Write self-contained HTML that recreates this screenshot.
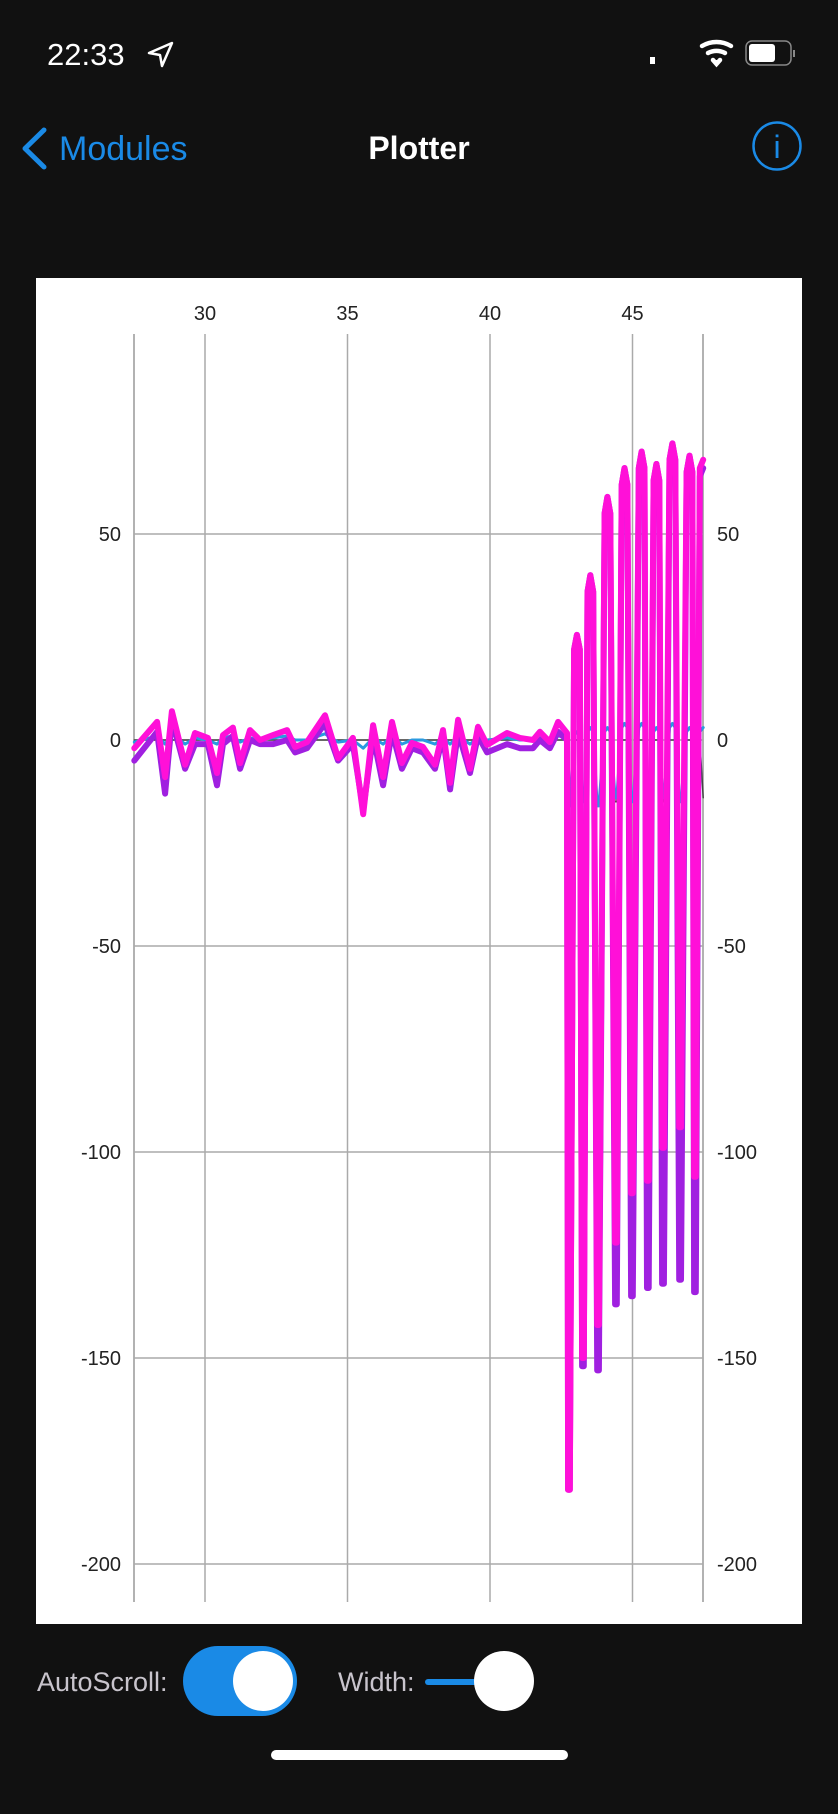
<!DOCTYPE html>
<html><head><meta charset="utf-8"><style>
html,body{margin:0;padding:0;background:#111;width:838px;height:1814px;overflow:hidden}
svg{display:block}
text{font-family:"Liberation Sans",sans-serif}
</style></head><body>
<svg id="root" width="838" height="1814" viewBox="0 0 838 1814">
<rect x="0" y="0" width="838" height="1814" fill="#111"/>
<g>
<text x="47" y="65" font-size="31" fill="#fff">22:33</text>
<path d="M149 53 L172 43 L162 66 L160 55 Z" fill="none" stroke="#fff" stroke-width="2.5" stroke-linejoin="round"/>
<rect x="650" y="57" width="5" height="7" fill="#fff"/>
<g fill="none" stroke="#fff" stroke-width="4.5" stroke-linecap="round">
<path d="M702 46 A28 28 0 0 1 731 46"/><path d="M708 53 A18 18 0 0 1 725 53"/><path d="M713 60 L716.5 64 L720 60" fill="#fff"/>
</g>
<rect x="746" y="41" width="45" height="24" rx="6" fill="none" stroke="#888" stroke-width="1.5"/>
<rect x="749" y="44" width="26" height="18" rx="3" fill="#fff"/>
<rect x="793" y="50" width="2" height="7" fill="#888"/>
</g>
<g>
<path d="M44 130 L25 148.5 L44 167" fill="none" stroke="#1a8ae6" stroke-width="5" stroke-linecap="round" stroke-linejoin="round"/>
<text x="59" y="160" font-size="34" fill="#1a8ae6">Modules</text>
<text x="419" y="159" font-size="32" font-weight="bold" fill="#fff" text-anchor="middle">Plotter</text>
<circle cx="777" cy="146" r="23.5" fill="none" stroke="#1a8ae6" stroke-width="2.5"/>
<text x="777" y="158" font-size="32" fill="#1a8ae6" text-anchor="middle" font-family="Liberation Serif">i</text>
</g>
<rect x="36" y="278" width="766" height="1346" fill="#fff"/>
<g id="grid"></g>
<g id="series"></g>
<g id="labels"></g>
<g>
<text x="37" y="1691" font-size="27" fill="#c8c4cc">AutoScroll:</text>
<rect x="183" y="1646" width="114" height="70" rx="35" fill="#1a8ae6"/>
<circle cx="263" cy="1681" r="30" fill="#fff"/>
<text x="338" y="1691" font-size="27" fill="#c8c4cc">Width:</text>
<line x1="428" y1="1682" x2="480" y2="1682" stroke="#1a8ae6" stroke-width="6" stroke-linecap="round"/>
<circle cx="504" cy="1681" r="30" fill="#fff"/>
</g>
<rect x="271" y="1750" width="297" height="10" rx="5" fill="#fff"/>
</svg>
<script>
const xTicks=[30,35,40,45];
const yTicks=[50,0,-50,-100,-150,-200];
const times=[27.52,28.32,28.6,28.84,29.3,29.65,30.1,30.42,30.63,30.98,31.23,31.58,31.93,32.39,32.88,33.16,33.58,34.21,34.67,35.19,35.55,35.9,36.25,36.56,36.91,37.26,37.65,38.07,38.35,38.6,38.88,39.3,39.58,39.9,40.6,41.05,41.51,41.75,42.1,42.39,42.7,
42.74,42.8,42.95,43.05,43.15,43.23,43.29,43.42,43.52,43.62,43.76,43.82,44.02,44.12,44.22,44.39,44.45,44.62,44.72,44.82,44.95,45.01,45.22,45.32,45.42,45.51,45.57,45.74,45.84,45.94,46.04,46.1,46.3,46.4,46.5,46.64,46.7,46.9,47.0,47.1,47.16,47.22,47.36,47.48];
const magenta=[-2,4.4,-9,7,-6,1.7,0.5,-8,1.2,3,-5.6,2.4,0,1.2,2.4,-1.7,-0.5,6,-4.4,0.5,-18,3.6,-9,4.4,-5.6,-0.7,-1.7,-6,2.4,-10.4,4.9,-7,3.2,-1.2,1.7,0.5,0,2,-0.5,4.4,1.7,
-182,-182,22,25.5,22,-150,-150,36,40,36,-142,-142,55,59,55,-122,-122,62,66,62,-110,-110,66,70,66,-107,-107,63,67,63,-99,-99,68,72,68,-94,-94,65,69,65,-106,-106,66,68];
const purple=[-5,2,-13,5,-7,-1,-1,-11,-1,1,-7,0,-1,-1,0,-3,-2,4,-5,-1,-17,1,-11,2,-7,-2,-3,-7,1,-12,2,-8,1,-3,-1,-2,-2,0,-2,2,0,
-182,-182,22,25.5,22,-152,-152,36,40,36,-153,-153,55,59,55,-137,-137,62,66,62,-135,-135,66,70,66,-133,-133,63,67,63,-132,-132,68,72,68,-131,-131,65,69,65,-134,-134,64,66];
const cyan=[-0.5,1,-1,1.5,-1,0.5,0,-1,0.5,1,-0.5,0.5,0,0.5,1,0,0,1.5,-0.5,0,-2,0.5,-1,1,-1,0,0,-1,0.5,-1,1,-1,0.5,0,0.5,0,0,0.5,0,1,0.5,
-16,-16,1,2,1,-15,-15,2,3,2,-16,-16,2,3,2,-14,-14,3,4,3,-15,-15,3,4,3,-15,-15,2,3,2,-14,-14,3,4,3,-15,-15,2,3,2,-14,-14,2,3];
const gray=[0,0,0,0,0,0,0,0,0,0,0,0,0,0,0,0,0,0,0,0,0,0,0,0,0,0,0,0,0,0,0,0,0,0,0,0,0,0,0,0,0,
-16,-16,0,0,0,-15,-15,0,0,0,-15,-15,0,0,0,-15,-15,0,0,0,-15,-15,0,0,0,-15,-15,0,0,0,-15,-15,0,0,0,-15,-15,0,0,0,-15,-15,0,-14];
const X0=134,X1=703,Y0=334,Y1=1602;
function sx(t){return 205+(t-30)*28.5;}
function sy(v){return 740-v*4.12;}
const NS="http://www.w3.org/2000/svg";
function mk(tag,attrs,parent){const e=document.createElementNS(NS,tag);for(const k in attrs)e.setAttribute(k,attrs[k]);parent.appendChild(e);return e;}
const grid=document.getElementById('grid'),lab=document.getElementById('labels'),ser=document.getElementById('series');
for(const x of [X0,X1]){const l=mk('line',{x1:x,y1:Y0,x2:x,y2:Y1,stroke:'#999','stroke-width':1.5},grid);

}
for(const t of xTicks){const l=mk('line',{x1:sx(t),y1:Y0,x2:sx(t),y2:Y1,stroke:'#aaa','stroke-width':1.5},grid);


const tx=mk('text',{x:sx(t),y:320,'font-size':20,'text-anchor':'middle',fill:'#222'},lab);tx.textContent=t;

}
for(const v of yTicks){const l=mk('line',{x1:X0,y1:sy(v),x2:X1,y2:sy(v),stroke:'#aaa','stroke-width':1.5},grid);


const a=mk('text',{x:121,y:sy(v)+7,'font-size':20,'text-anchor':'end',fill:'#222'},lab);a.textContent=v;


const b=mk('text',{x:717,y:sy(v)+7,'font-size':20,fill:'#222'},lab);b.textContent=v;

}
function line(vals,color,w,name){const d=vals.map((v,i)=>(i?'L':'M')+sx(times[i]).toFixed(1)+' '+sy(v).toFixed(1)).join(' ');
const p=mk('path',{d:d,fill:'none',stroke:color,'stroke-width':w,'stroke-linejoin':'round','stroke-linecap':'round'},ser);

}
line(gray,'#444',1.5,'series-gray');
line(cyan,'#2a9be0',3,'series-cyan');
line(purple,'#a020e0',6,'series-purple');
line(magenta,'#ff10d8',6,'series-magenta');
</script>
</body></html>
